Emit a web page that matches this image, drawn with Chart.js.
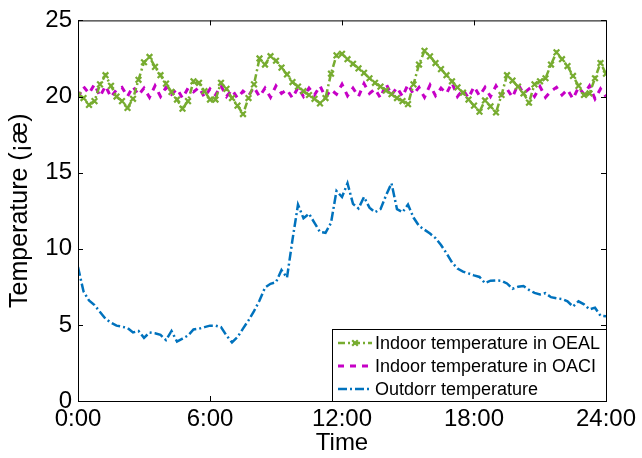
<!DOCTYPE html>
<html>
<head>
<meta charset="utf-8">
<script src="https://cdn.jsdelivr.net/npm/chart.js@4/dist/chart.umd.min.js"></script>
<style>
  html, body { margin: 0; padding: 0; background: #fff; }
  #wrap { width: 642px; height: 458px; }
</style>
</head>
<body>
<div id="wrap"><canvas id="grafico" width="642" height="458"></canvas></div>
<script>
// readings every 15 minutes, 0:00 .. 24:00
const passoHoras = 0.25;
const horas = Array.from({ length: 97 }, (_, i) => i * passoHoras);

const seriesNomes = ['Indoor temperature in OEAL', 'Indoor temperature in OACI', 'Outdorr temperature'];
const xTicks = [0, 6, 12, 18, 24];
const yTicks = [0, 5, 10, 15, 20, 25];

const interiorOEAL = [
  20.1, 19.9, 19.45, 19.7, 20.8, 21.4, 20.7, 20.0, 19.7, 19.25,
  19.85, 21.1, 22.25, 22.6, 21.95, 21.4, 20.85, 20.3, 19.8, 19.2,
  19.7, 21.0, 20.9, 20.35, 19.8, 19.8, 20.9, 20.5, 19.9, 19.4,
  18.85, 19.9, 20.8, 22.5, 22.1, 22.65, 22.35, 21.9, 21.45, 20.95,
  20.65, 20.35, 20.1, 19.85, 19.55, 19.9, 21.5, 22.7, 22.8, 22.45,
  22.15, 21.85, 21.55, 21.2, 20.9, 20.65, 20.4, 20.15, 19.9, 19.7,
  19.5, 20.8, 22.1, 23.0, 22.64, 22.2, 21.8, 21.4, 21.0, 20.6,
  20.25, 19.8, 19.4, 19.0, 19.74, 19.35, 18.95, 20.1, 21.4, 21.05,
  20.65, 20.2, 19.6, 20.8, 21.0, 21.2, 22.1, 22.9, 22.45, 22.0,
  21.35, 20.7, 20.1, 20.2, 21.2, 22.2, 21.5
];

const interiorOACI = [
  19.95, 20.65, 20.2, 20.8, 20.0, 20.7, 19.95, 20.45, 20.6, 20.0,
  20.65, 20.1, 20.55, 19.95, 20.7, 20.0, 20.6, 20.15, 20.5, 19.9,
  20.55, 20.3, 20.6, 19.95, 20.5, 20.1, 20.7, 20.0, 20.45, 19.9,
  20.35, 20.05, 20.6, 20.0, 20.55, 19.95, 20.7, 20.2, 20.45, 19.9,
  20.6, 20.0, 20.55, 20.1, 20.7, 19.95, 20.45, 20.15, 20.8, 20.05,
  20.55, 20.0, 20.85, 20.2, 20.5, 19.9, 20.85, 20.1, 20.6, 20.0,
  20.8, 20.15, 20.6, 19.95, 20.75, 20.05, 20.55, 20.2, 20.9, 20.0,
  20.45, 19.9, 20.65, 20.05, 20.6, 20.0, 20.7, 20.1, 20.5, 19.95,
  20.8, 20.2, 20.5, 20.0, 20.65, 19.95, 20.35, 20.6, 20.1, 20.45,
  19.85, 20.6, 20.15, 20.7, 19.85, 20.5, 20.0
];

const exterior = [
  8.8, 7.2, 6.6, 6.3, 5.85, 5.4, 5.15, 4.95, 4.88, 4.8,
  4.5, 4.6, 4.15, 4.5, 4.45, 4.35, 4.0, 4.6, 3.9, 4.1,
  4.3, 4.7, 4.75, 4.85, 4.95, 4.95, 4.85, 4.3, 3.85, 4.2,
  4.75, 5.3, 5.9, 6.6, 7.45, 7.7, 7.8, 8.6, 8.1, 10.6,
  12.9, 12.0, 12.3, 11.7, 11.1, 11.05, 11.7, 13.8, 13.4, 14.3,
  12.95, 12.65, 13.4, 12.7, 12.4, 12.6, 13.5, 14.3, 12.6, 12.4,
  12.9, 12.05, 11.5, 11.25, 11.0, 10.7, 10.25, 9.7, 9.1, 8.7,
  8.5, 8.38, 8.25, 8.15, 7.74, 7.9, 7.92, 7.9, 7.72, 7.37,
  7.5, 7.55, 7.3, 7.1, 7.0, 7.08, 6.82, 6.75, 6.7, 6.55,
  6.2, 6.55, 6.35, 6.02, 6.13, 5.6, 5.56
];

const cores = ['#77ac30', '#c600c6', '#0072bd'];
const fonte = '"Liberation Sans", Arial, sans-serif';

const pontos = vals => vals.map((v, i) => ({ x: horas[i], y: v }));

// box + inward ticks, MATLAB style
const moldura = {
  id: 'moldura',
  afterDatasetsDraw(chart) {
    const { ctx, chartArea: a, scales } = chart;
    ctx.save();
    ctx.strokeStyle = '#000';
    ctx.lineWidth = 1;
    ctx.strokeRect(a.left + 0.5, a.top + 0.5, a.right - a.left, a.bottom - a.top);
    const t = 5;
    ctx.beginPath();
    yTicks.forEach(v => {
      const y = Math.round(scales.y.getPixelForValue(v)) + 0.5;
      ctx.moveTo(a.left, y); ctx.lineTo(a.left + t, y);
      ctx.moveTo(a.right, y); ctx.lineTo(a.right - t, y);
    });
    xTicks.forEach(v => {
      const x = Math.round(scales.x.getPixelForValue(v)) + 0.5;
      ctx.moveTo(x, a.bottom); ctx.lineTo(x, a.bottom - t);
      ctx.moveTo(x, a.top); ctx.lineTo(x, a.top + t);
    });
    ctx.stroke();
    ctx.restore();
  }
};

// legend box in lower right corner of the axes
const legenda = {
  id: 'legenda',
  afterDraw(chart) {
    const { ctx, chartArea: a } = chart;
    const w = 274, h = 72;
    const x0 = a.right - w, y0 = a.bottom - h;
    ctx.save();
    ctx.fillStyle = '#fff';
    ctx.fillRect(x0, y0, w, h);
    ctx.strokeStyle = '#000';
    ctx.lineWidth = 1;
    ctx.strokeRect(x0 + 0.5, y0 + 0.5, w, h);
    ctx.font = '18px ' + fonte;
    ctx.textBaseline = 'middle';
    chart.data.datasets.forEach((ds, i) => {
      const y = y0 + 14 + i * 23;
      ctx.strokeStyle = ds.borderColor;
      ctx.lineWidth = ds.borderWidth;
      ctx.setLineDash(ds.borderDash || []);
      ctx.beginPath();
      ctx.moveTo(x0 + 6, y);
      ctx.lineTo(x0 + 40, y);
      ctx.stroke();
      ctx.setLineDash([]);
      if (ds.pointRadius > 0) {
        const r = ds.pointRadius;
        ctx.lineWidth = ds.pointBorderWidth;
        ctx.beginPath();
        ctx.moveTo(x0 + 23 - r * 0.7, y - r * 0.7); ctx.lineTo(x0 + 23 + r * 0.7, y + r * 0.7);
        ctx.moveTo(x0 + 23 - r * 0.7, y + r * 0.7); ctx.lineTo(x0 + 23 + r * 0.7, y - r * 0.7);
        ctx.stroke();
      }
      ctx.fillStyle = '#000';
      ctx.fillText(ds.label, x0 + 43, y + 1);
    });
    ctx.restore();
  }
};

new Chart(document.getElementById('grafico').getContext('2d'), {
  type: 'line',
  data: {
    datasets: [
      {
        label: seriesNomes[0],
        data: pontos(interiorOEAL),
        borderColor: cores[0],
        backgroundColor: cores[0],
        borderWidth: 2.5,
        borderDash: [7, 3, 2, 3],
        pointStyle: 'crossRot',
        pointRadius: 4,
        pointBorderWidth: 2.2,
        pointBorderColor: cores[0]
      },
      {
        label: seriesNomes[1],
        data: pontos(interiorOACI),
        borderColor: cores[1],
        backgroundColor: cores[1],
        borderWidth: 3,
        borderDash: [6, 6],
        pointRadius: 0,
        pointBorderWidth: 0
      },
      {
        label: seriesNomes[2],
        data: pontos(exterior),
        borderColor: cores[2],
        backgroundColor: cores[2],
        borderWidth: 2.5,
        borderDash: [9, 3, 2, 3],
        pointRadius: 0,
        pointBorderWidth: 0
      }
    ]
  },
  options: {
    responsive: false,
    animation: false,
    layout: { padding: { top: 19, right: 36, left: 0, bottom: 0 } },
    elements: { line: { tension: 0 } },
    plugins: {
      legend: { display: false },
      tooltip: { enabled: false }
    },
    scales: {
      x: {
        type: 'linear',
        min: 0,
        max: 24,
        afterFit: s => { s.height = 57; },
        afterBuildTicks: s => { s.ticks = xTicks.map(v => ({ value: v })); },
        grid: { display: false, drawTicks: false },
        border: { display: false },
        ticks: {
          padding: 4,
          color: '#000',
          font: { family: fonte, size: 24 },
          callback: v => v + ':00'
        },
        title: {
          display: true,
          text: 'Time',
          color: '#000',
          font: { family: fonte, size: 24 },
          padding: { top: 0, bottom: 0 }
        }
      },
      y: {
        min: 0,
        max: 25,
        afterFit: s => { s.width = 78; },
        afterBuildTicks: s => { s.ticks = yTicks.map(v => ({ value: v })); },
        grid: { display: false, drawTicks: false },
        border: { display: false },
        ticks: {
          padding: 6,
          color: '#000',
          font: { family: fonte, size: 24 }
        },
        title: {
          display: true,
          text: 'Temperature (¡æ)',
          color: '#000',
          font: { family: fonte, size: 25 },
          padding: { top: 5, bottom: 0 }
        }
      }
    }
  },
  plugins: [moldura, legenda]
});
</script>
</body>
</html>
